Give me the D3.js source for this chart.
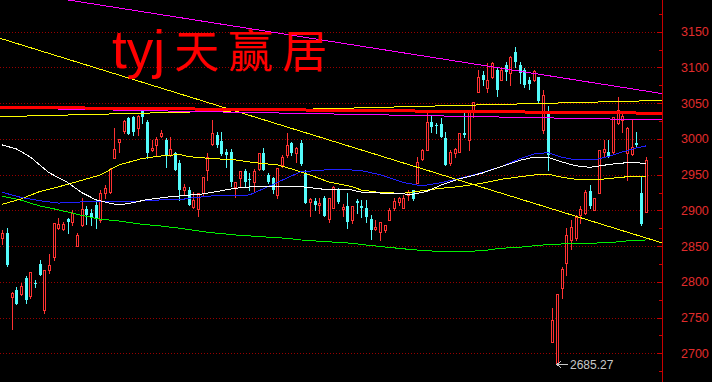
<!DOCTYPE html>
<html>
<head>
<meta charset="utf-8">
<script src="https://cdn.jsdelivr.net/npm/d3@7"></script>
<style>
  html, body { margin: 0; padding: 0; background: #000; }
  svg { display: block; }
</style>
</head>
<body>
<svg id="chart" width="712" height="382"></svg>
<script>
// Daily candles, 2019-08-02 .. 2020-03-02
const opens = [
  2861,2868,2779,2789,2783,2806,2780,2799,2825,2761,
  2817,2835,2876,2874,2888,2884,2850,2879,2902,2897,
  2908,2887,2925,2926,2973,2996,3011,3029,3031,3015,
  3040,3024,2984,2991,3004,2998,2978,2980,2966,2928,
  2928,2905,2902,2924,2956,2993,3006,2997,2982,2982,
  2932,2945,2955,2944,2940,2958,2980,2950,2945,2922,
  2964,2977,2994,2980,2994,2952,2912,2913,2907,2917,
  2888,2904,2930,2902,2906,2887,2913,2906,2903,2888,
  2874,2870,2873,2887,2903,2912,2904,2922,2928,2938,
  2972,2985,3023,3020,3021,3001,2966,2980,2981,3008,
  2998,3037,3066,3089,3071,3086,3096,3082,3104,3092,
  3122,3103,3096,3082,3082,3087,3012,3038,2716,2685.27,
  2792,2827,2859,2861,2894,2896,2927,2901,2925,2981,
  2981,2981,3022,3027,2980,2979,2994,2925,2898
];
const highs = [
  2873,2875,2786,2793,2799,2808,2814,2803,2830,2817,
  2839,2883,2890,2884,2890,2901,2869,2918,2906,2902,
  2916,2928,2936,2959,3015,3000,3027,3031,3032,3033,
  3042,3026,2998,3003,3012,3001,3003,2982,2970,2937,
  2933,2926,2925,2947,2980,3026,3010,3010,2986,2986,
  2939,2955,2958,2952,2958,2980,2987,2952,2947,2959,
  2978,3008,2996,2989,2999,2956,2917,2917,2917,2920,
  2918,2934,2931,2909,2924,2906,2916,2915,2915,2894,
  2887,2884,2880,2903,2917,2919,2922,2929,2929,2975,
  2986,3038,3033,3022,3029,3010,2985,2987,3008,3036,
  3040,3051,3097,3095,3106,3108,3099,3101,3108,3116,
  3129,3108,3099,3087,3096,3087,3068,3046,2764,2783,
  2821,2875,2887,2894,2906,2929,2935,2918,2985,2998,
  2998,3030,3059,3037,3017,3027,3010,2947,2974
];
const lows = [
  2853,2822,2734,2769,2782,2771,2778,2793,2809,2757,
  2813,2831,2874,2873,2869,2880,2850,2878,2881,2880,
  2875,2884,2917,2925,2973,2982,3008,3007,3006,3005,
  3022,2973,2983,2976,3002,2961,2976,2956,2915,2922,
  2908,2904,2892,2921,2943,2991,2989,2978,2961,2934,
  2919,2933,2932,2928,2927,2956,2956,2938,2924,2917,
  2960,2975,2978,2968,2964,2910,2892,2901,2896,2892,
  2884,2904,2910,2892,2875,2882,2896,2891,2884,2860,
  2872,2858,2870,2887,2901,2908,2904,2915,2915,2938,
  2971,2985,3010,3008,3003,2963,2963,2974,2981,3003,
  2984,3031,3066,3075,3066,3085,3060,3082,3082,3075,
  3101,3078,3072,3070,3081,3052,3008,2957,2716,2685.27,
  2778,2809,2846,2859,2883,2895,2904,2900,2924,2976,
  2974,2980,3021,3010,2943,2977,2990,2880,2898
];
const closes = [
  2868,2823,2784,2769,2794,2775,2814,2798,2810,2816,
  2824,2883,2881,2881,2884,2897,2865,2902,2893,2891,
  2888,2925,2931,2958,2986,3000,3025,3007,3010,3032,
  3031,2980,2987,3000,3008,2977,2986,2956,2928,2932,
  2908,2915,2925,2947,2975,3008,2991,2979,2977,2939,
  2939,2955,2940,2943,2955,2980,2956,2940,2928,2959,
  2975,2992,2980,2987,2965,2910,2916,2908,2910,2892,
  2918,2933,2912,2905,2884,2906,2910,2903,2891,2873,
  2877,2884,2880,2901,2913,2917,2918,2926,2916,2968,
  2985,3024,3017,3019,3003,2963,2982,2986,3008,3005,
  3040,3051,3087,3083,3083,3106,3068,3096,3094,3115,
  3107,3092,3075,3077,3095,3053,3061,2977,2747,2783,
  2818,2866,2877,2891,2902,2926,2906,2917,2984,2986,
  2976,3030,3040,3032,3015,2989,2991,2881,2971
];

// Moving averages, as [candle index, value]
const maWhite = [[0,2991.5],[3,2986],[6,2974.7],[10,2952.8],[14,2939],[17,2925],[20,2915],[23,2910],[25,2907.5],[28,2910.8],[31,2915],[35,2918.3],[38,2920.2],[43,2923],[50,2930.9],[55,2933.9],[59,2933.2],[64,2933.2],[69,2929.5],[75,2928.5],[77,2925.5],[82,2924],[88,2922.5],[91,2926.5],[94,2935.1],[98,2943.9],[103,2952.3],[107,2961.2],[111,2970.1],[114,2974.3],[117,2974.3],[120,2967.7],[123,2962.5],[126,2960.3],[129,2963.1],[132,2965.9],[135,2966.8],[138,2965.9]];
const maBlue = [[0,2925.3],[4,2918.1],[8,2913.6],[12,2910.2],[17,2911.8],[21,2912.2],[25,2912.2],[30,2913.2],[34,2914.6],[38,2914.6],[40,2917],[45,2920.2],[50,2920.2],[53,2921.6],[57,2933.2],[61,2945.1],[64,2954],[69,2956.5],[75,2956.5],[77,2955.6],[81,2950],[86,2939.1],[90,2934.2],[94,2938.6],[98,2944.6],[103,2953],[107,2961.2],[111,2972.2],[114,2978.9],[117,2980.7],[120,2974.4],[123,2970.5],[127,2970.5],[130,2975.4],[133,2981.7],[136,2987.3],[138,2990.1]];
const maYellow = [[0,2908.5],[4,2916],[8,2926.3],[12,2932.8],[17,2942],[21,2949.5],[25,2963.5],[30,2972.6],[34,2976.1],[38,2978.2],[40,2975.1],[44,2973],[50,2970.5],[55,2966.1],[59,2963.7],[63,2956.1],[66,2949.5],[70,2939.8],[75,2933.3],[77,2928.5],[81,2924.9],[86,2923.9],[90,2927.4],[94,2930.9],[98,2933.2],[103,2938.1],[107,2943.5],[111,2947],[114,2949.5],[117,2950.9],[120,2946.3],[123,2943.6],[127,2942.5],[130,2944.6],[134,2947],[138,2947.2]];
const maGreen = [[0,2919.9],[4,2914.3],[8,2906.2],[12,2900.8],[17,2893.1],[21,2887.6],[25,2885.2],[30,2880.4],[34,2878.2],[38,2875],[44,2869.4],[50,2865.6],[55,2863.4],[61,2860.9],[64,2858.6],[69,2856.4],[75,2854],[77,2852.3],[81,2849.5],[87,2845.6],[91,2843.3],[98,2842.2],[103,2843.6],[107,2847],[111,2848.4],[116,2851.6],[120,2853],[126,2854],[130,2854.8],[134,2857.2],[138,2858.6]];

// Hand-drawn trend lines, endpoints as [candle index, value]
const trendDown = [[-0.5,3140.8],[141.5,2854.5]];
const trendTop = [[-0.5,3209.4],[141.5,3063.4]];
const levelRed = [[-0.5,3044.3],[141.5,3035.9]];
const levelMagenta = [[-0.5,3043.3],[141.5,3026.5]];
const levelYellow = [[-0.5,3031.1],[141.5,3053.8]];

const priceTicks = [2700,2750,2800,2850,2900,2950,3000,3050,3100,3150];
const titleLatin = "tyj";
const titleCJK = "天赢居";

const RED = "#ff3232", CYAN = "#54fcfc";
const plotRight = 662;

const svg = d3.select("#chart");
const x = d3.scaleLinear().domain([-0.5, 141.5]).range([0, plotRight]);
const y = d3.scaleLinear().domain([2700, 3150]).range([353.3, 31.7]);

svg.append("rect").attr("width", 712).attr("height", 382).attr("fill", "#000");

svg.append("defs").append("clipPath").attr("id", "plot")
  .append("rect").attr("x", 0).attr("y", 0).attr("width", plotRight).attr("height", 382);

// dotted horizontal grid
svg.append("g").attr("shape-rendering", "crispEdges")
  .selectAll("line").data(priceTicks).join("line")
  .attr("x1", 0).attr("x2", plotRight)
  .attr("y1", d => Math.round(y(d)) + 0.5).attr("y2", d => Math.round(y(d)) + 0.5)
  .attr("stroke", "#980000").attr("stroke-dasharray", "1,2");

const plot = svg.append("g").attr("clip-path", "url(#plot)");

// candles: hollow red when rising, filled cyan when falling
const cg = plot.append("g").attr("shape-rendering", "crispEdges");
const candles = d3.range(opens.length).map(i => ({ i, o: opens[i], h: highs[i], l: lows[i], c: closes[i] }));
candles.forEach(d => {
  const cx = Math.round(x(d.i));
  const up = d.c > d.o;
  const top = Math.round(y(Math.max(d.o, d.c)));
  const bot = Math.round(y(Math.min(d.o, d.c)));
  const yh = Math.round(y(d.h)), yl = Math.round(y(d.l));
  const g = cg.append("g");
  if (up) {
    if (yh < top) g.append("line").attr("x1", cx + 0.5).attr("x2", cx + 0.5).attr("y1", yh).attr("y2", top).attr("stroke", RED);
    if (yl > bot) g.append("line").attr("x1", cx + 0.5).attr("x2", cx + 0.5).attr("y1", bot).attr("y2", yl + 1).attr("stroke", RED);
    g.append("rect").attr("x", cx - 0.5).attr("y", top + 0.5).attr("width", 2)
      .attr("height", Math.max(bot - top, 0)).attr("fill", "none").attr("stroke", RED);
  } else {
    g.append("line").attr("x1", cx + 0.5).attr("x2", cx + 0.5).attr("y1", yh).attr("y2", yl + 1).attr("stroke", CYAN);
    g.append("rect").attr("x", cx - 1).attr("y", top).attr("width", 3)
      .attr("height", Math.max(bot - top, 1)).attr("fill", CYAN);
  }
});

// moving averages and trend lines
const line = d3.line().x(d => x(d[0])).y(d => y(d[1]));
const lg = plot.append("g").attr("fill", "none").attr("shape-rendering", "crispEdges");
[
  [maGreen, "#00f000", 1],
  [maYellow, "#ffff00", 1],
  [maBlue, "#2020ff", 1],
  [maWhite, "#ffffff", 1],
  [trendDown, "#ffff00", 1],
  [trendTop, "#ff00ff", 1],
  [levelYellow, "#ffff00", 1],
  [levelMagenta, "#ff00ff", 1],
  [levelRed, "#ff0000", 3]
].forEach(([data, color, w]) => {
  lg.append("path").attr("d", line(data)).attr("stroke", color).attr("stroke-width", w);
});

// lowest low marker
const lowIdx = d3.minIndex(lows);
const lx = Math.round(x(lowIdx)), ly = Math.round(y(lows[lowIdx])) + 0.5;
svg.append("path")
  .attr("d", `M${lx},${ly}H${lx + 11}M${lx + 4},${ly - 3}L${lx},${ly}L${lx + 4},${ly + 3}`)
  .attr("stroke", "#c8c8c8").attr("fill", "none").attr("shape-rendering", "crispEdges");
svg.append("text").attr("x", lx + 13).attr("y", ly + 4.5)
  .attr("font-family", "Liberation Sans, Arial, sans-serif").attr("font-size", 12)
  .attr("fill", "#c8c8c8").text(d3.format(".2f")(lows[lowIdx]));

// price axis
svg.append("line").attr("x1", plotRight + 0.5).attr("x2", plotRight + 0.5).attr("y1", 0).attr("y2", 382)
  .attr("stroke", "#c80000").attr("shape-rendering", "crispEdges");

const majorTicks = svg.append("g").attr("transform", `translate(${plotRight},0)`)
  .call(d3.axisLeft(y).tickValues(priceTicks).tickSize(5).tickFormat(""));
const minorTicks = svg.append("g").attr("transform", `translate(${plotRight},0)`)
  .call(d3.axisLeft(y).tickValues(d3.range(2675, 3200, 50)).tickSize(3).tickFormat(""));
[majorTicks, minorTicks].forEach(g => {
  g.select(".domain").remove();
  g.selectAll("line").attr("stroke", "#c80000").attr("shape-rendering", "crispEdges");
});

const labels = svg.append("g").attr("transform", `translate(${plotRight},0)`)
  .call(d3.axisRight(y).tickValues(priceTicks).tickSize(0).tickPadding(19).tickFormat(d3.format("d")));
labels.select(".domain").remove();
labels.selectAll("text")
  .attr("fill", "#e02c2c")
  .attr("font-family", "Liberation Sans, Arial, sans-serif")
  .attr("font-size", 12.5);

// title
const title = svg.append("text").attr("y", 68).attr("fill", "#ff0000");
title.append("tspan").attr("x", 112)
  .attr("font-family", "Liberation Sans, Arial, sans-serif").attr("font-size", 53).text(titleLatin);
title.append("tspan").attr("x", 174)
  .attr("font-family", "Noto Sans CJK SC, sans-serif").attr("font-size", 45)
  .attr("letter-spacing", 9).text(titleCJK);
</script>
</body>
</html>
